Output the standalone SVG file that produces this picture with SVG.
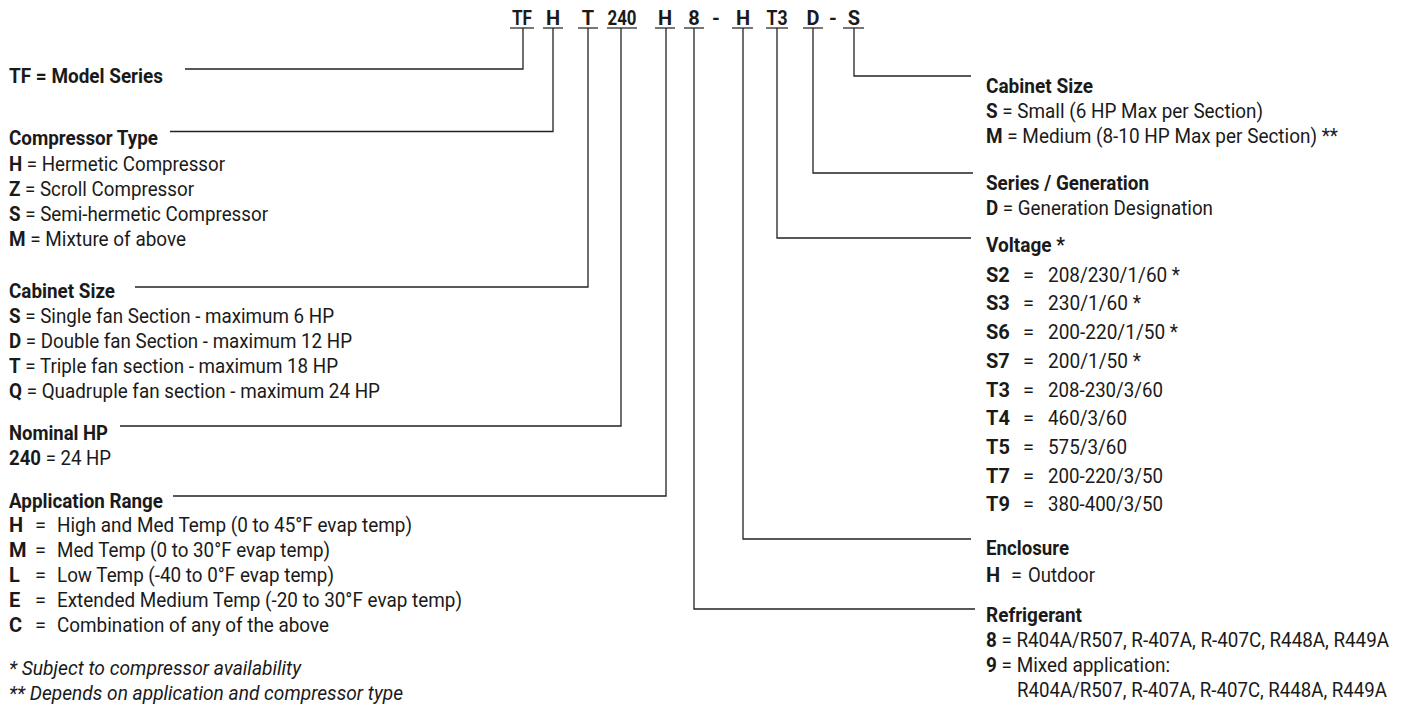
<svg xmlns="http://www.w3.org/2000/svg" width="1403" height="706" viewBox="0 0 1403 706">
<style>
text{font-family:Roboto,"Liberation Sans",sans-serif;font-size:20px;fill:#1a1a1a}
.b{font-weight:700}
.i{font-style:italic}
.code{font-weight:700;text-anchor:middle}
.c{fill:none;stroke:#222;stroke-width:1.3}
.u{stroke:#555;stroke-width:1.6}
</style>
<rect width="1403" height="706" fill="#fff"/>

<g id="code">
<text class="code" x="522" y="25" textLength="20" lengthAdjust="spacingAndGlyphs">TF</text>
<text class="code" x="553" y="25">H</text>
<text class="code" x="588" y="25">T</text>
<text class="code" x="622" y="25" textLength="29" lengthAdjust="spacingAndGlyphs">240</text>
<text class="code" x="665" y="25">H</text>
<text class="code" x="694" y="25">8</text>
<text class="code" x="716" y="25">-</text>
<text class="code" x="743" y="25">H</text>
<text class="code" x="777" y="25" textLength="21" lengthAdjust="spacingAndGlyphs">T3</text>
<text class="code" x="813" y="25">D</text>
<text class="code" x="833" y="25">-</text>
<text class="code" x="854" y="25">S</text>
<g class="u">
<line x1="510" y1="28" x2="534" y2="28"/>
<line x1="543" y1="28" x2="563" y2="28"/>
<line x1="578" y1="28" x2="598" y2="28"/>
<line x1="607" y1="28" x2="637" y2="28"/>
<line x1="655" y1="28" x2="675" y2="28"/>
<line x1="684" y1="28" x2="704" y2="28"/>
<line x1="732" y1="28" x2="753" y2="28"/>
<line x1="766" y1="28" x2="788" y2="28"/>
<line x1="803" y1="28" x2="823" y2="28"/>
<line x1="843" y1="28" x2="864" y2="28"/>
</g>
</g>

<g id="connectors">
<path class="c" d="M523,28 V69 H185"/>
<path class="c" d="M553,28 V131.5 H170"/>
<path class="c" d="M588,28 V287 H135"/>
<path class="c" d="M621,28 V426 H120"/>
<path class="c" d="M666,28 V496 H173"/>
<path class="c" d="M694,28 V609 H975"/>
<path class="c" d="M743,28 V539 H971"/>
<path class="c" d="M777,28 V238 H971"/>
<path class="c" d="M813,28 V173 H973"/>
<path class="c" d="M854,28 V76 H971"/>
</g>

<g id="model-series">
<text class="b" x="9" y="83" textLength="154" lengthAdjust="spacingAndGlyphs">TF = Model Series</text>
</g>

<g id="compressor-type">
<text class="b" x="9" y="145" textLength="149" lengthAdjust="spacingAndGlyphs">Compressor Type</text>
<text x="9" y="170.5" textLength="216" lengthAdjust="spacingAndGlyphs"><tspan class="b">H</tspan> = Hermetic Compressor</text>
<text x="9" y="195.5" textLength="185" lengthAdjust="spacingAndGlyphs"><tspan class="b">Z</tspan> = Scroll Compressor</text>
<text x="9" y="220.5" textLength="259" lengthAdjust="spacingAndGlyphs"><tspan class="b">S</tspan> = Semi-hermetic Compressor</text>
<text x="9" y="245.5" textLength="177" lengthAdjust="spacingAndGlyphs"><tspan class="b">M</tspan> = Mixture of above</text>
</g>

<g id="cabinet-size-left">
<text class="b" x="9" y="297.5" textLength="106" lengthAdjust="spacingAndGlyphs">Cabinet Size</text>
<text x="9" y="322.5" textLength="325" lengthAdjust="spacingAndGlyphs"><tspan class="b">S</tspan> = Single fan Section - maximum 6 HP</text>
<text x="9" y="347.5" textLength="343" lengthAdjust="spacingAndGlyphs"><tspan class="b">D</tspan> = Double fan Section - maximum 12 HP</text>
<text x="9" y="372.5" textLength="329" lengthAdjust="spacingAndGlyphs"><tspan class="b">T</tspan> = Triple fan section - maximum 18 HP</text>
<text x="9" y="397.5" textLength="371" lengthAdjust="spacingAndGlyphs"><tspan class="b">Q</tspan> = Quadruple fan section - maximum 24 HP</text>
</g>

<g id="nominal-hp">
<text class="b" x="9" y="439.5" textLength="99" lengthAdjust="spacingAndGlyphs">Nominal HP</text>
<text x="9" y="464.5" textLength="102" lengthAdjust="spacingAndGlyphs"><tspan class="b">240</tspan> = 24 HP</text>
</g>

<g id="application-range">
<text class="b" x="9" y="507.5" textLength="154" lengthAdjust="spacingAndGlyphs">Application Range</text>
<text class="b" x="9" y="531.5">H</text><text x="35" y="531.5">=</text>
<text x="57" y="531.5" textLength="355" lengthAdjust="spacingAndGlyphs">High and Med Temp (0 to 45°F evap temp)</text>
<text class="b" x="9" y="556.5">M</text><text x="35" y="556.5">=</text>
<text x="57" y="556.5" textLength="273" lengthAdjust="spacingAndGlyphs">Med Temp (0 to 30°F evap temp)</text>
<text class="b" x="9" y="581.5">L</text><text x="35" y="581.5">=</text>
<text x="57" y="581.5" textLength="277" lengthAdjust="spacingAndGlyphs">Low Temp (-40 to 0°F evap temp)</text>
<text class="b" x="9" y="606.5">E</text><text x="35" y="606.5">=</text>
<text x="57" y="606.5" textLength="405" lengthAdjust="spacingAndGlyphs">Extended Medium Temp (-20 to 30°F evap temp)</text>
<text class="b" x="9" y="631.5">C</text><text x="35" y="631.5">=</text>
<text x="57" y="631.5" textLength="272" lengthAdjust="spacingAndGlyphs">Combination of any of the above</text>
</g>

<g id="footnotes">
<text class="i" x="9" y="675" textLength="292" lengthAdjust="spacingAndGlyphs">* Subject to compressor availability</text>
<text class="i" x="9" y="700" textLength="394" lengthAdjust="spacingAndGlyphs">** Depends on application and compressor type</text>
</g>

<g id="cabinet-size-right">
<text class="b" x="986" y="92.5" textLength="107" lengthAdjust="spacingAndGlyphs">Cabinet Size</text>
<text x="986" y="117.5" textLength="277" lengthAdjust="spacingAndGlyphs"><tspan class="b">S</tspan> = Small (6 HP Max per Section)</text>
<text x="986" y="142.5" textLength="352" lengthAdjust="spacingAndGlyphs"><tspan class="b">M</tspan> = Medium (8-10 HP Max per Section) **</text>
</g>

<g id="series-generation">
<text class="b" x="986" y="189.5" textLength="163" lengthAdjust="spacingAndGlyphs">Series / Generation</text>
<text x="986" y="214.5" textLength="227" lengthAdjust="spacingAndGlyphs"><tspan class="b">D</tspan> = Generation Designation</text>
</g>

<g id="voltage">
<text class="b" x="986" y="251.5" textLength="79" lengthAdjust="spacingAndGlyphs">Voltage *</text>
<text class="b" x="986" y="281.5">S2</text><text x="1023" y="281.5">=</text><text x="1048" y="281.5" textLength="132" lengthAdjust="spacingAndGlyphs">208/230/1/60 *</text>
<text class="b" x="986" y="310">S3</text><text x="1023" y="310">=</text><text x="1048" y="310" textLength="93" lengthAdjust="spacingAndGlyphs">230/1/60 *</text>
<text class="b" x="986" y="338.5">S6</text><text x="1023" y="338.5">=</text><text x="1048" y="338.5" textLength="130" lengthAdjust="spacingAndGlyphs">200-220/1/50 *</text>
<text class="b" x="986" y="367.5">S7</text><text x="1023" y="367.5">=</text><text x="1048" y="367.5" textLength="93" lengthAdjust="spacingAndGlyphs">200/1/50 *</text>
<text class="b" x="986" y="396.5">T3</text><text x="1023" y="396.5">=</text><text x="1048" y="396.5" textLength="115" lengthAdjust="spacingAndGlyphs">208-230/3/60</text>
<text class="b" x="986" y="425">T4</text><text x="1023" y="425">=</text><text x="1048" y="425" textLength="79" lengthAdjust="spacingAndGlyphs">460/3/60</text>
<text class="b" x="986" y="454">T5</text><text x="1023" y="454">=</text><text x="1048" y="454" textLength="79" lengthAdjust="spacingAndGlyphs">575/3/60</text>
<text class="b" x="986" y="482.5">T7</text><text x="1023" y="482.5">=</text><text x="1048" y="482.5" textLength="115" lengthAdjust="spacingAndGlyphs">200-220/3/50</text>
<text class="b" x="986" y="511">T9</text><text x="1023" y="511">=</text><text x="1048" y="511" textLength="115" lengthAdjust="spacingAndGlyphs">380-400/3/50</text>
</g>

<g id="enclosure">
<text class="b" x="986" y="554.5" textLength="83" lengthAdjust="spacingAndGlyphs">Enclosure</text>
<text class="b" x="986" y="581.5">H</text><text x="1011" y="581.5">=</text><text x="1028" y="581.5" textLength="67" lengthAdjust="spacingAndGlyphs">Outdoor</text>
</g>

<g id="refrigerant">
<text class="b" x="986" y="621.5" textLength="96" lengthAdjust="spacingAndGlyphs">Refrigerant</text>
<text x="986" y="647" textLength="403" lengthAdjust="spacingAndGlyphs"><tspan class="b">8</tspan> = R404A/R507, R-407A, R-407C, R448A, R449A</text>
<text x="986" y="671.5" textLength="184" lengthAdjust="spacingAndGlyphs"><tspan class="b">9</tspan> = Mixed application:</text>
<text x="1017" y="696.5" textLength="370" lengthAdjust="spacingAndGlyphs">R404A/R507, R-407A, R-407C, R448A, R449A</text>
</g>
</svg>
